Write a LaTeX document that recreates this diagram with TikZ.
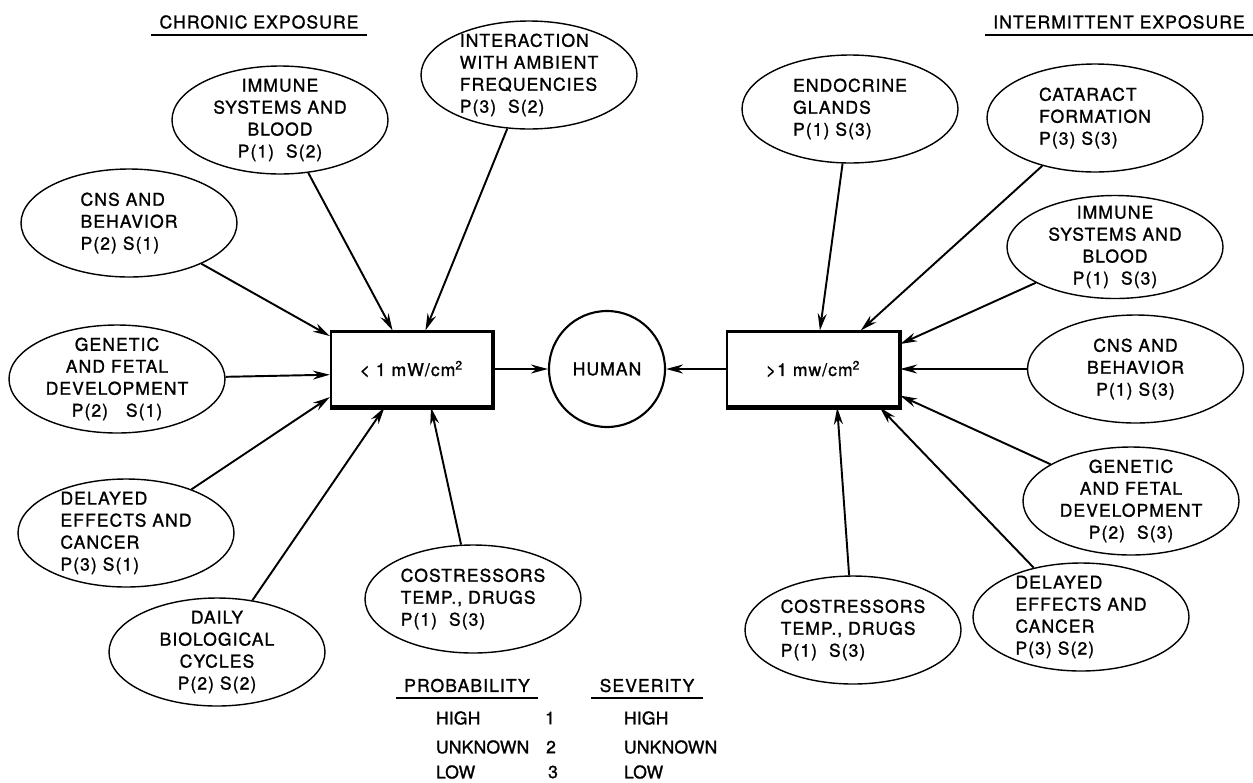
\documentclass[tikz,border=0pt]{standalone}
\usepackage{fontspec}
\setmainfont{TeX Gyre Heros}[LetterSpace=6, FakeBold=1.2]
\usepackage{tikz}
\usetikzlibrary{arrows.meta, positioning, shapes.geometric}

\tikzset{
  topic/.style={ellipse, draw, line width=0.8pt, minimum width=4.32cm, minimum height=2.16cm, inner xsep=0pt, inner ysep=-4mm, align=center},
  level/.style={rectangle, draw, line width=1.2pt, minimum width=3.22cm, minimum height=1.5cm},
  target/.style={circle, draw, line width=1.2pt, minimum size=2.32cm},
  heading/.style={inner xsep=1.5mm, inner ysep=1mm},
  key/.style={anchor=west, inner sep=0pt, font=\fontsize{10}{12.5}\selectfont\addfontfeature{LetterSpace=1}}
}

\begin{document}
\begin{tikzpicture}[->, > = {Stealth[length=3.4mm, width=1.8mm]}, line width=1.1pt, font=\fontsize{10}{12.5}\selectfont]

\useasboundingbox (0,0) rectangle (25.06,-15.64);

% exposure levels and the human
\node[target]								(human) at (12.14,-7.38)		{HUMAN};
\node[level]								(low)  [left=1.1cm of human]	{< 1 mW/cm\textsuperscript{2}};
\node[level, minimum width=3.44cm]			(high) [right=1.2cm of human]	{>1 mw/cm\textsuperscript{2}};

\draw[-, line width=2.4pt] (low.south west) -- (low.south east) -- (low.north east);
\draw[-, line width=2.4pt] (high.south west) -- (high.south east) -- (high.north east);

% headings
\node[heading]	(chronic) at (5.18,-0.44)	{CHRONIC EXPOSURE};
\node[heading]	(interm)  at (22.38,-0.44)	{INTERMITTENT EXPOSURE};
\draw[-] (chronic.south west) -- (chronic.south east);
\draw[-] (interm.south west) -- (interm.south east);

% chronic exposure
\node[topic]				(imm1)  at (5.60,-2.40)		{IMMUNE\\SYSTEMS AND\\BLOOD\\P(1)~~S(2)};
\node[topic, align=left]	(inter) at (10.58,-1.50)	{INTERACTION\\WITH AMBIENT\\FREQUENCIES\\P(3)~~S(2)};
\node[topic, align=left]	(cns1)  at (2.58,-4.46)		{CNS AND\\BEHAVIOR\\P(2) S(1)};
\node[topic]				(gen1)  at (2.34,-7.58)		{GENETIC\\AND FETAL\\DEVELOPMENT\\P(2)~~~S(1)};
\node[topic, align=left]	(del1)  at (2.52,-10.66)	{DELAYED\\EFFECTS AND\\CANCER\\P(3) S(1)};
\node[topic]				(daily) at (4.34,-13.04)	{DAILY\\BIOLOGICAL\\CYCLES\\P(2) S(2)};
\node[topic, align=left]	(cost1) at (9.46,-11.98)	{COSTRESSORS\\TEMP., DRUGS\\P(1)~~S(3)};

% intermittent exposure
\node[topic, align=left]	(endo)  at (17.00,-2.18)	{ENDOCRINE\\GLANDS\\P(1) S(3)};
\node[topic, align=left]	(cat)   at (21.90,-2.36)	{CATARACT\\FORMATION\\P(3) S(3)};
\node[topic, minimum height=2.06cm]	(imm2)  at (22.30,-4.94)	{IMMUNE\\SYSTEMS AND\\BLOOD\\P(1)~~S(3)};
\node[topic]				(cns2)  at (22.71,-7.38)	{CNS AND\\BEHAVIOR\\P(1) S(3)};
\node[topic]				(gen2)  at (22.62,-10.02)	{GENETIC\\AND FETAL\\DEVELOPMENT\\P(2)~~S(3)};
\node[topic, align=left]	(del2)  at (21.62,-12.34)	{DELAYED\\EFFECTS AND\\CANCER\\P(3) S(2)};
\node[topic, align=left]	(cost2) at (17.06,-12.60)	{COSTRESSORS\\TEMP., DRUGS\\P(1)~~S(3)};

\path	(imm1)	edge	(low.116);
\path	(inter)	edge	(low.70);
\path	(cns1)	edge	(low.158);
\path	(gen1)	edge	(low.184);
\path	(del1)	edge	(low.199);
\path	(daily)	edge	(low.235);
\path	(cost1)	edge	(low.297);
\path	(low)	edge	(human);

\path	(endo)	edge	(high.80);
\path	(cat)	edge	(high.39);
\path	(imm2)	edge	(high.16);
\path	(cns2)	edge	(high.east);
\path	(gen2)	edge	(high.343);
\path	(del2)	edge	(high.330);
\path	(cost2)	edge	(high.302);
\path	(high)	edge	(human);

% legend
\node[heading]	(prob) at (9.34,-13.71)		{PROBABILITY};
\node[heading]	(sev)  at (12.94,-13.71)	{SEVERITY};
\draw[-] (prob.south west) -- (prob.south east);
\draw[-] (sev.south west) -- (sev.south east);

\node[key]			(phigh) at (8.70,-14.36)	{HIGH};
\node[key]			(punk)  at (8.70,-14.94)	{UNKNOWN};
\node[key]			(plow)  at (8.70,-15.44)	{LOW};
\node[inner sep=0pt]	(one)   at (11.00,-14.36)	{1};
\node[inner sep=0pt]	(two)   at (11.02,-14.94)	{2};
\node[inner sep=0pt]	(three) at (11.06,-15.44)	{3};
\node[key]			(shigh) at (12.46,-14.36)	{HIGH};
\node[key]			(sunk)  at (12.46,-14.94)	{UNKNOWN};
\node[key]			(slow)  at (12.46,-15.44)	{LOW};

\end{tikzpicture}
\end{document}
